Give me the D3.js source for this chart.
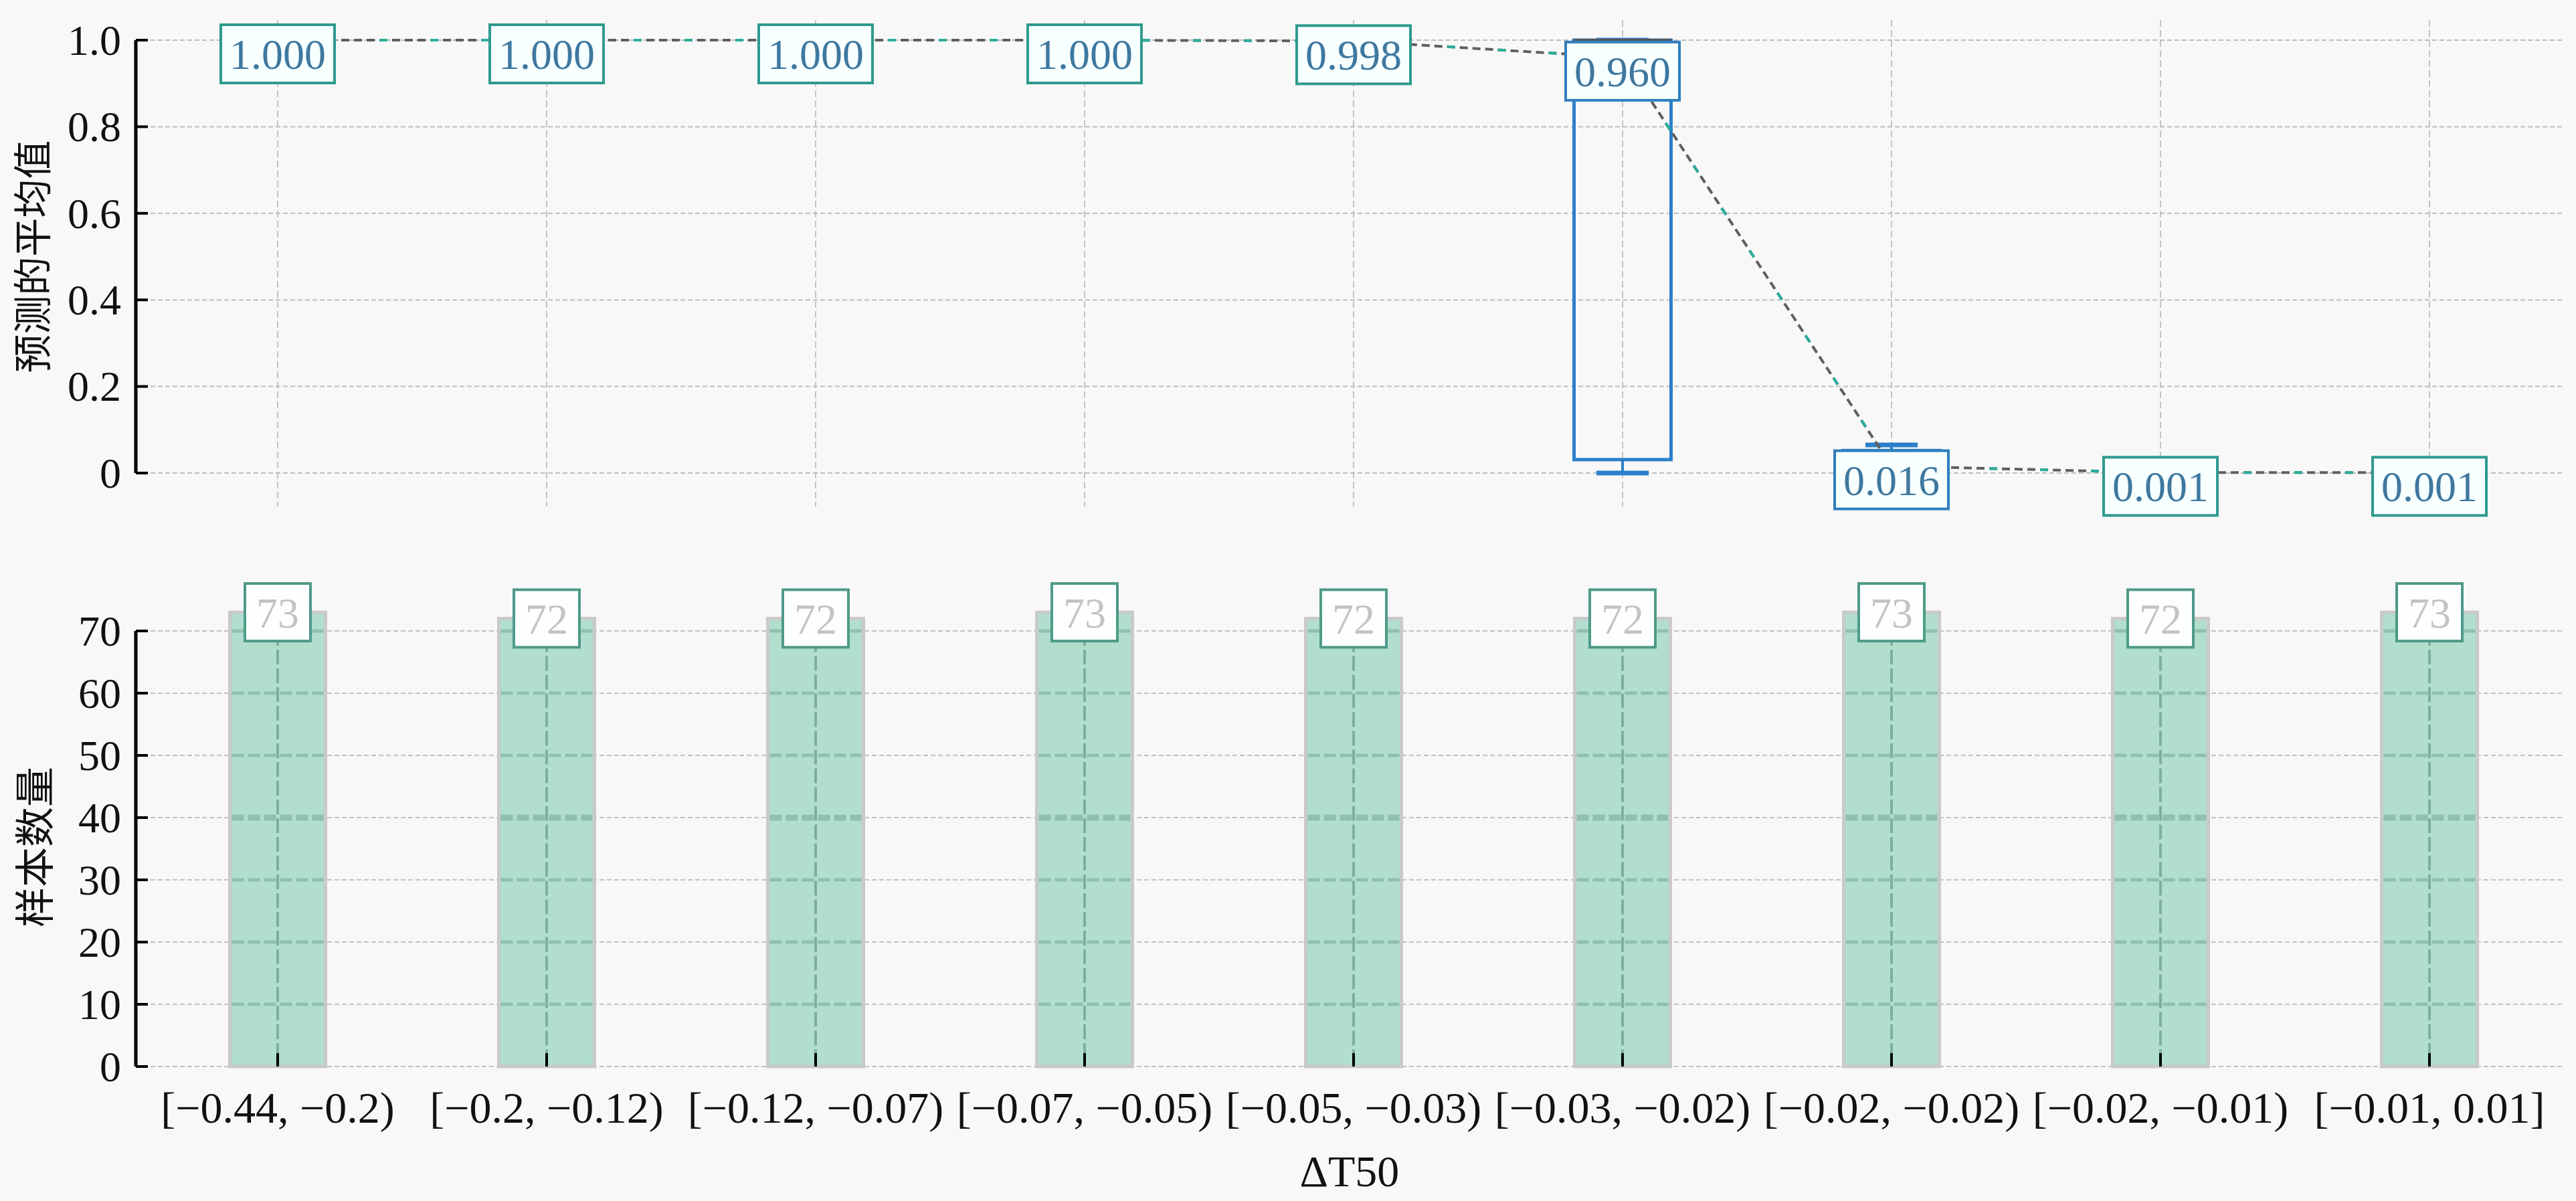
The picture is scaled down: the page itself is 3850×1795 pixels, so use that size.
<!DOCTYPE html>
<html>
<head>
<meta charset="utf-8">
<script src="https://cdn.jsdelivr.net/npm/d3@7"></script>
<style>
  html, body { margin: 0; padding: 0; background: #f8f8f8; }
  svg { display: block; }
  text { font-family: "Liberation Serif", "DejaVu Serif", serif; }
  .cjk { font-family: "Noto Sans CJK SC", sans-serif; }
</style>
</head>
<body>
<svg id="chart"></svg>
<script>
// bins of ΔT50
const categories = ['[−0.44, −0.2)', '[−0.2, −0.12)', '[−0.12, −0.07)', '[−0.07, −0.05)',
                    '[−0.05, −0.03)', '[−0.03, −0.02)', '[−0.02, −0.02)', '[−0.02, −0.01)', '[−0.01, 0.01]'];
const means = [1.000, 1.000, 1.000, 1.000, 0.998, 0.960, 0.016, 0.001, 0.001];
const counts = [73, 72, 72, 73, 72, 72, 73, 72, 73];
// box plot stats per bin: whisker low, q1, median, q3, whisker high
const whiskLo = [1, 1, 1, 1, 1, 0, 0, 0, 0];
const q1 = [1, 1, 1, 1, 1, 0.031, 0, 0, 0];
const medians = [1, 1, 1, 1, 1, 1, 0.003, 0, 0];
const q3 = [1, 1, 1, 1, 1, 1, 0.052, 0, 0];
const whiskHi = [1, 1, 1, 1, 1, 1, 0.065, 0.002, 0.002];
const topTicks = [0, 0.2, 0.4, 0.6, 0.8, 1.0];
const topTickLabels = ['0', '0.2', '0.4', '0.6', '0.8', '1.0'];
const botTicks = [0, 10, 20, 30, 40, 50, 60, 70];

const width = 3850,
      height = 1795,
      left = 203,
      right = 3831,
      fontSize = 64;

const svg = d3.select('#chart')
  .attr('width', width)
  .attr('height', height);

svg.append('rect')
  .attr('width', width)
  .attr('height', height)
  .attr('fill', '#f8f8f8');

const x = d3.scalePoint()
  .domain(categories)
  .range([415, 3631]);

const yTop = d3.scaleLinear().domain([0, 1]).range([707, 60]);
const yBot = d3.scaleLinear().domain([0, 70]).range([1594, 943]);

const data = categories.map((c, i) => ({
  cat: c, mean: means[i], count: counts[i],
  lo: whiskLo[i], q1: q1[i], med: medians[i], q3: q3[i], hi: whiskHi[i]
}));

// ---------- top panel ----------
const $top = svg.append('g');

$top.append('g')
  .selectAll('line')
  .data(categories)
  .enter()
  .append('line')
    .attr('x1', (d) => x(d))
    .attr('x2', (d) => x(d))
    .attr('y1', 30)
    .attr('y2', 757)
    .attr('stroke', '#c4c4c4')
    .attr('stroke-width', 2)
    .attr('stroke-dasharray', '10,5');

$top.append('g')
  .selectAll('line')
  .data(topTicks)
  .enter()
  .append('line')
    .attr('x1', left)
    .attr('x2', right)
    .attr('y1', (d) => yTop(d))
    .attr('y2', (d) => yTop(d))
    .attr('stroke', '#bdbdbd')
    .attr('stroke-width', 2)
    .attr('stroke-dasharray', '7,4');

// boxes
const boxW = 145, capW = 78, boxColor = '#2b7fc9';
const boxes = $top.append('g')
  .selectAll('g')
  .data(data)
  .enter()
  .append('g');

boxes.append('line')
  .attr('x1', (d) => x(d.cat)).attr('x2', (d) => x(d.cat))
  .attr('y1', (d) => yTop(d.lo)).attr('y2', (d) => yTop(d.q1))
  .attr('stroke', boxColor).attr('stroke-width', 4);
boxes.append('line')
  .attr('x1', (d) => x(d.cat)).attr('x2', (d) => x(d.cat))
  .attr('y1', (d) => yTop(d.q3)).attr('y2', (d) => yTop(d.hi))
  .attr('stroke', boxColor).attr('stroke-width', 4);
boxes.append('line')
  .attr('x1', (d) => x(d.cat) - capW / 2).attr('x2', (d) => x(d.cat) + capW / 2)
  .attr('y1', (d) => yTop(d.lo)).attr('y2', (d) => yTop(d.lo))
  .attr('stroke', boxColor).attr('stroke-width', 7);
boxes.append('line')
  .attr('x1', (d) => x(d.cat) - capW / 2).attr('x2', (d) => x(d.cat) + capW / 2)
  .attr('y1', (d) => yTop(d.hi)).attr('y2', (d) => yTop(d.hi))
  .attr('stroke', boxColor).attr('stroke-width', 7);
boxes.append('rect')
  .attr('x', (d) => x(d.cat) - boxW / 2)
  .attr('y', (d) => yTop(d.q3))
  .attr('width', boxW)
  .attr('height', (d) => Math.max(0.5, yTop(d.q1) - yTop(d.q3)))
  .attr('fill', 'none')
  .attr('stroke', boxColor)
  .attr('stroke-width', 5);
boxes.append('line')
  .attr('x1', (d) => x(d.cat) - boxW / 2).attr('x2', (d) => x(d.cat) + boxW / 2)
  .attr('y1', (d) => yTop(d.med)).attr('y2', (d) => yTop(d.med))
  .attr('stroke', '#555').attr('stroke-width', 4);

// line through the means
const meanLine = d3.line()
  .x((d) => x(d.cat))
  .y((d) => yTop(d.mean));

$top.append('path')
  .datum(data)
  .attr('d', meanLine)
  .attr('fill', 'none')
  .attr('stroke', '#5f5f5f')
  .attr('stroke-width', 4)
  .attr('stroke-dasharray', '12,7');
$top.append('path')
  .datum(data)
  .attr('d', meanLine)
  .attr('fill', 'none')
  .attr('stroke', '#2aae9c')
  .attr('stroke-width', 4)
  .attr('stroke-dasharray', '12,64');

// mean labels
const meanLabels = $top.append('g')
  .selectAll('g')
  .data(data)
  .enter()
  .append('g')
    .attr('transform', (d) => `translate(${x(d.cat)},${yTop(d.mean) - 23})`);

meanLabels.append('text')
  .attr('x', 0)
  .attr('y', 66)
  .attr('text-anchor', 'middle')
  .attr('font-size', fontSize)
  .attr('fill', '#3f789f')
  .text((d) => d.mean.toFixed(3));

meanLabels.each(function (d) {
  const g = d3.select(this),
        w = g.select('text').node().getBBox().width + 26;
  g.insert('rect', 'text')
    .attr('x', -w / 2)
    .attr('y', 0)
    .attr('width', w)
    .attr('height', 87)
    .attr('fill', '#f7ffff')
    .attr('stroke', (d.q3 - d.q1) > 0.01 ? '#2f7fbf' : '#2f9a8e')
    .attr('stroke-width', 4);
});

// axis
$top.append('line')
  .attr('x1', left).attr('x2', left)
  .attr('y1', yTop(0)).attr('y2', yTop(1))
  .attr('stroke', '#000').attr('stroke-width', 5);

const topTick = $top.append('g')
  .selectAll('g')
  .data(topTicks)
  .enter()
  .append('g')
    .attr('transform', (d) => `translate(${left},${yTop(d)})`);
topTick.append('line')
  .attr('x1', 0).attr('x2', 18)
  .attr('stroke', '#000').attr('stroke-width', 4);
topTick.append('text')
  .attr('x', -22)
  .attr('dy', '0.34em')
  .attr('text-anchor', 'end')
  .attr('font-size', fontSize)
  .attr('fill', '#111')
  .text((d, i) => topTickLabels[i]);

$top.append('text')
  .attr('class', 'cjk')
  .attr('transform', `translate(70,${yTop(0.5)}) rotate(-90)`)
  .attr('text-anchor', 'middle')
  .attr('font-size', 58)
  .attr('fill', '#111')
  .text('预测的平均值');

// ---------- bottom panel ----------
const $bot = svg.append('g');
const barW = 143;

$bot.append('g')
  .selectAll('line')
  .data(botTicks)
  .enter()
  .append('line')
    .attr('x1', left)
    .attr('x2', right)
    .attr('y1', (d) => yBot(d))
    .attr('y2', (d) => yBot(d))
    .attr('stroke', '#c2c2c2')
    .attr('stroke-width', 2)
    .attr('stroke-dasharray', '7,4');

$bot.append('g')
  .selectAll('rect')
  .data(data)
  .enter()
  .append('rect')
    .attr('x', (d) => x(d.cat) - barW / 2)
    .attr('y', (d) => yBot(d.count))
    .attr('width', barW)
    .attr('height', (d) => yBot(0) - yBot(d.count))
    .attr('fill', '#b1dece')
    .attr('stroke', '#c9c9c9')
    .attr('stroke-width', 5);

// grid seen through the bars
const inBar = $bot.append('g')
  .selectAll('g')
  .data(data)
  .enter()
  .append('g');

inBar.selectAll('line')
  .data((d) => botTicks.filter((t) => t > 0 && t < d.count).map((t) => ({ cat: d.cat, t: t })))
  .enter()
  .append('line')
    .attr('x1', (d) => x(d.cat) - barW / 2 + 3)
    .attr('x2', (d) => x(d.cat) + barW / 2 - 3)
    .attr('y1', (d) => yBot(d.t))
    .attr('y2', (d) => yBot(d.t))
    .attr('stroke', '#8fbfae')
    .attr('stroke-width', (d) => d.t === 40 ? 9 : 5)
    .attr('stroke-dasharray', '18,6');

$bot.append('g')
  .selectAll('line')
  .data(data)
  .enter()
  .append('line')
    .attr('x1', (d) => x(d.cat))
    .attr('x2', (d) => x(d.cat))
    .attr('y1', (d) => yBot(d.count))
    .attr('y2', yBot(0))
    .attr('stroke', '#7eae9d')
    .attr('stroke-width', 4)
    .attr('stroke-dasharray', '22,6');

// x ticks (inward)
$bot.append('g')
  .selectAll('line')
  .data(categories)
  .enter()
  .append('line')
    .attr('x1', (d) => x(d))
    .attr('x2', (d) => x(d))
    .attr('y1', yBot(0))
    .attr('y2', yBot(0) - 20)
    .attr('stroke', '#000')
    .attr('stroke-width', 4);

// count labels
const countLabels = $bot.append('g')
  .selectAll('g')
  .data(data)
  .enter()
  .append('g')
    .attr('transform', (d) => `translate(${x(d.cat)},${yBot(d.count)})`);

countLabels.append('text')
  .attr('text-anchor', 'middle')
  .attr('dy', '0.35em')
  .attr('font-size', fontSize)
  .attr('fill', '#c3c3c3')
  .text((d) => d.count);

countLabels.each(function () {
  const g = d3.select(this),
        w = g.select('text').node().getBBox().width + 34;
  g.insert('rect', 'text')
    .attr('x', -w / 2)
    .attr('y', -43)
    .attr('width', w)
    .attr('height', 86)
    .attr('fill', '#fcfffe')
    .attr('stroke', '#4e9a88')
    .attr('stroke-width', 4);
});

// y axis
$bot.append('line')
  .attr('x1', left).attr('x2', left)
  .attr('y1', yBot(0)).attr('y2', yBot(70))
  .attr('stroke', '#000').attr('stroke-width', 5);

const botTick = $bot.append('g')
  .selectAll('g')
  .data(botTicks)
  .enter()
  .append('g')
    .attr('transform', (d) => `translate(${left},${yBot(d)})`);
botTick.append('line')
  .attr('x1', 0).attr('x2', 18)
  .attr('stroke', '#000').attr('stroke-width', 4);
botTick.append('text')
  .attr('x', -22)
  .attr('dy', '0.34em')
  .attr('text-anchor', 'end')
  .attr('font-size', fontSize)
  .attr('fill', '#111')
  .text((d) => d);

// x tick labels
$bot.append('g')
  .selectAll('text')
  .data(categories)
  .enter()
  .append('text')
    .attr('x', (d) => x(d))
    .attr('y', 1678)
    .attr('text-anchor', 'middle')
    .attr('font-size', 66)
    .attr('fill', '#111')
    .text((d) => d);

$bot.append('text')
  .attr('x', (left + right) / 2)
  .attr('y', 1773)
  .attr('text-anchor', 'middle')
  .attr('font-size', 66)
  .attr('fill', '#111')
  .text('ΔT50');

$bot.append('text')
  .attr('class', 'cjk')
  .attr('transform', `translate(74,1266) rotate(-90)`)
  .attr('text-anchor', 'middle')
  .attr('font-size', 60)
  .attr('fill', '#111')
  .text('样本数量');
</script>
</body>
</html>
